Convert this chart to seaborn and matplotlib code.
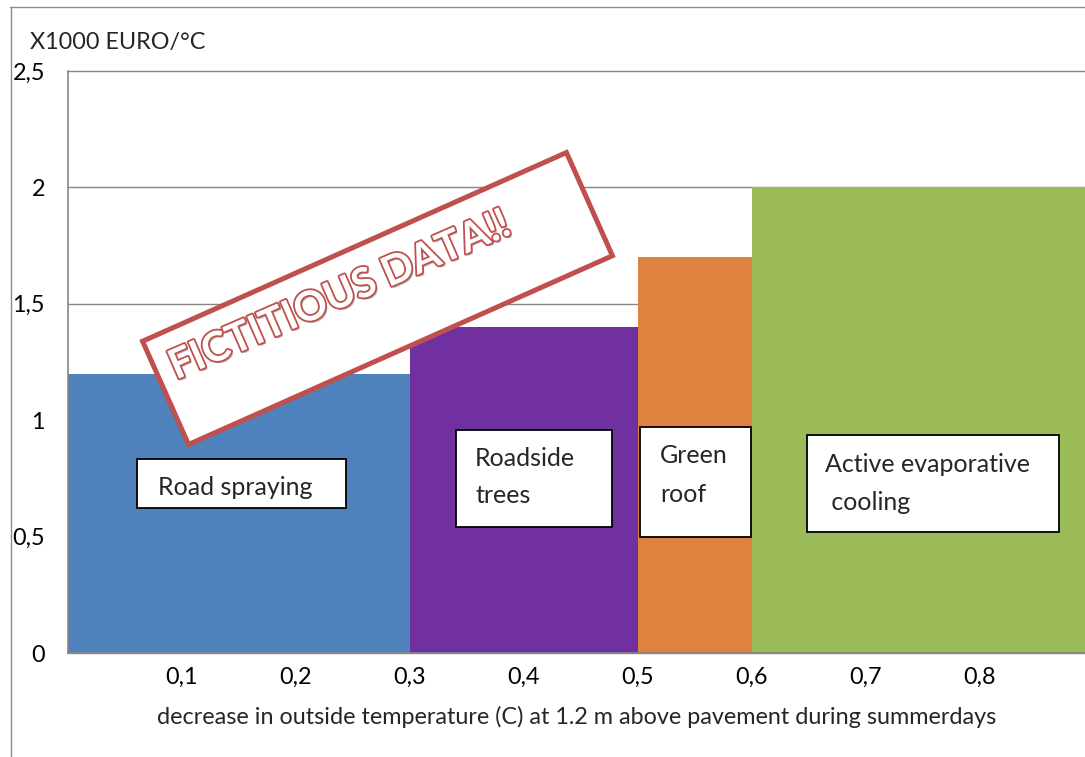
import numpy as np
import pandas as pd
import matplotlib
matplotlib.use("Agg")
import matplotlib.pyplot as plt
import matplotlib.patheffects as pe
from matplotlib.patches import Polygon, Rectangle
from matplotlib.lines import Line2D
import seaborn as sns

# ---- data -------------------------------------------------------------
measures = ["Road spraying", "Roadside trees", "Green roof", "Active evaporative cooling"]
temp_from = [0.0, 0.3, 0.5, 0.6]          # start of each measure's cooling range (°C)
temp_to = [0.3, 0.5, 0.6, 0.9]            # end of each measure's cooling range (°C)
cost_per_degree = [1.2, 1.4, 1.7, 2.0]    # x1000 EURO per °C
bar_colors = ["#4F81BD", "#7030A0", "#DE833F", "#9BBB59"]
box_lines = [["Road spraying"], ["Roadside", "trees"], ["Green", "roof"],
             ["Active evaporative", " cooling"]]
x_ticks = [0.1, 0.2, 0.3, 0.4, 0.5, 0.6, 0.7, 0.8]
y_ticks = [0.0, 0.5, 1.0, 1.5, 2.0, 2.5]
x_label = "decrease in outside temperature (C) at 1.2 m above pavement during summerdays"
y_label = "X1000 EURO/°C"
stamp_text = "FICTITIOUS DATA!!"

# ---- figure layout (pixels) -------------------------------------------
W, H = 1085, 757
AX_L, AX_R, AX_T, AX_B = 68, 1085, 71, 653
PX_PER_UNIT_X = 1140.0

sns.set_style("white")
plt.rcParams["font.family"] = ["Lato", "DejaVu Sans"]
GRAY = "#868686"
FS = 16.8       # axis text
FS_BOX = 18.0   # text inside the label boxes


def fpt(x, y):
    """pixel position (from top-left) -> figure fraction"""
    return x / W, 1 - y / H


fig = plt.figure(figsize=(W / 100, H / 100), dpi=100)
ax = fig.add_axes([AX_L / W, 1 - AX_B / H, (AX_R - AX_L) / W, (AX_B - AX_T) / H])

# variable-width bars: one histogram bin per measure, weighted by its cost
df = pd.DataFrame({
    "measure": measures,
    "mid": [(a + b) / 2 for a, b in zip(temp_from, temp_to)],
    "cost": cost_per_degree,
})
edges = sorted(set(temp_from) | set(temp_to))
sns.histplot(data=df, x="mid", weights="cost", bins=edges, hue="measure",
             hue_order=measures, palette=dict(zip(measures, bar_colors)),
             multiple="layer", element="bars", fill=True, alpha=1,
             linewidth=0, legend=False, stat="count", ax=ax)

ax.set_xlim(0, (AX_R - AX_L) / PX_PER_UNIT_X)
ax.set_ylim(0, 2.5)

ax.set_xticks(x_ticks)
ax.set_xticklabels([f"{v:.1f}".replace(".", ",") for v in x_ticks], fontsize=FS)
ax.set_xticks([0.0], minor=True)
ax.tick_params(axis="x", which="major", direction="out", length=5, width=1.2,
               color="#4F81BD", labelcolor="black", pad=5)
ax.tick_params(axis="x", which="minor", direction="out", length=5, width=1.2,
               color=GRAY)
ax.set_yticks(y_ticks)
ax.set_yticklabels([f"{v:g}".replace(".", ",") for v in y_ticks], fontsize=FS)
ax.tick_params(axis="y", direction="out", length=4.5, width=1.1, color=GRAY,
               labelcolor="black", pad=12)

ax.set_axisbelow(True)
ax.yaxis.grid(True, color=GRAY, linewidth=1.0)
ax.xaxis.grid(False)
for gl in ax.get_ygridlines():
    gl.set_clip_on(False)
for side in ("top", "right"):
    ax.spines[side].set_visible(False)
for side in ("left", "bottom"):
    ax.spines[side].set_color(GRAY)
    ax.spines[side].set_linewidth(1.2)

ax.set_xlabel(x_label, fontsize=FS, va="center")
ax.xaxis.set_label_coords(0.5, -(717 - AX_B) / (AX_B - AX_T))
ax.set_ylabel("")
fig.text(*fpt(30, 42), y_label, fontsize=FS, ha="left", va="center")

# outer chart frame (top and left edges)
fig.add_artist(Line2D([10 / W, 1], [1 - 7 / H] * 2, color="#8C8C8C", lw=1.0,
                      transform=fig.transFigure))
fig.add_artist(Line2D([11 / W] * 2, [1 - 7 / H, 0], color="#8C8C8C", lw=1.0,
                      transform=fig.transFigure))

# labelled text boxes: (left, top, right, bottom) and line baselines in px
boxes = [(137, 459, 346, 508), (456, 430, 612, 527), (640, 427, 751, 537),
         (807, 435, 1059, 532)]
text_pos = [(158, [495]), (475, [466, 503]), (660, [463, 502]), (825, [472, 510])]
for (l, t, r, b), (tx, bases), lines in zip(boxes, text_pos, box_lines):
    x0, y0 = fpt(l, b)
    x1, y1 = fpt(r, t)
    fig.add_artist(Rectangle((x0, y0), x1 - x0, y1 - y0, facecolor="white",
                             edgecolor="black", lw=1.3, transform=fig.transFigure,
                             zorder=3))
    for line, base in zip(lines, bases):
        fig.text(*fpt(tx, base), line, fontsize=FS_BOX, ha="left", va="baseline",
                 zorder=4)

# rotated "stamp" banner
cx, cy, sw, sh, ang = 377.5, 298.5, 464, 113, np.deg2rad(24.0)
u = np.array([np.cos(ang), -np.sin(ang)])      # along the banner (screen px)
v = np.array([np.sin(ang), np.cos(ang)])       # across the banner
corners = [np.array([cx, cy]) + s * sw / 2 * u + t * sh / 2 * v
           for s, t in [(-1, -1), (1, -1), (1, 1), (-1, 1)]]
fig.add_artist(Polygon([fpt(*c) for c in corners], closed=True,
                       facecolor="white", edgecolor="#C0504D", lw=3.6,
                       joinstyle="miter", transform=fig.transFigure, zorder=5))
fig.text(*fpt(340, 296), stamp_text, fontsize=29.5, fontweight="bold",
         color="white", rotation=23.5, rotation_mode="anchor",
         ha="center", va="center", zorder=6,
         path_effects=[pe.SimplePatchShadow(offset=(1.5, -1.5),
                                            shadow_rgbFace="#7F7F7F", alpha=0.6),
                       pe.Stroke(linewidth=2.6, foreground="#C0504D"),
                       pe.Normal()])

fig.savefig("out.png", dpi=100)
